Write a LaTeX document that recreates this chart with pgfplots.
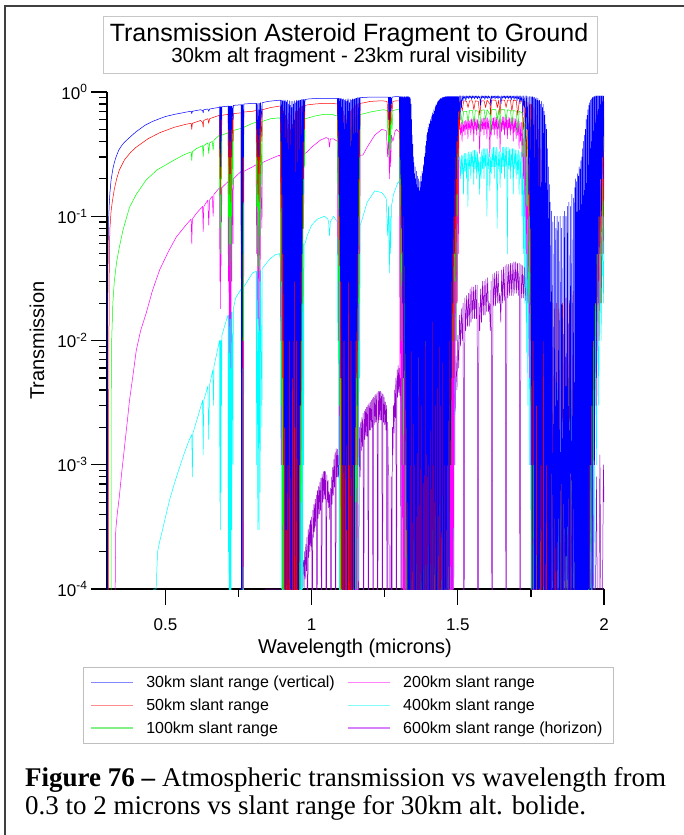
\documentclass[border=0pt]{standalone}
\usepackage{pgfplots}
\pgfplotsset{compat=1.18}
\usepackage{fontspec}
\setmainfont{Liberation Sans}
\newfontfamily\capfont{Liberation Serif}
\definecolor{cblue}{RGB}{0,0,255}
\definecolor{cred}{RGB}{255,0,0}
\definecolor{cgreen}{RGB}{0,255,0}
\definecolor{cmag}{RGB}{255,0,255}
\definecolor{ccyan}{RGB}{0,255,255}
\definecolor{cpurp}{RGB}{150,0,205}
\definecolor{lblue}{RGB}{135,135,255}
\definecolor{lred}{RGB}{255,140,140}
\definecolor{lgreen}{RGB}{130,240,130}
\definecolor{lmag}{RGB}{255,130,255}
\definecolor{lcyan}{RGB}{130,250,250}
\definecolor{lpurp}{RGB}{215,130,250}
\begin{document}
\begin{tikzpicture}
\useasboundingbox (0pt,0pt) rectangle (684pt,835pt);
% frame
\draw[line width=1.6pt, black!75] (5pt,0pt) -- (5pt,829pt) -- (684pt,829pt);
% title box
\draw[line width=0.9pt, black!22] (103pt,762pt) rectangle (597pt,819pt);
\node[anchor=base, inner sep=0pt] at (349pt,793pt) {\fontsize{25}{30}\selectfont Transmission Asteroid Fragment to Ground};
\node[anchor=base, inner sep=0pt] at (349pt,772pt) {\fontsize{20.5}{24}\selectfont 30km alt fragment - 23km rural visibility};
% caption
\node[anchor=base west, inner sep=0pt] at (25pt,48pt) {\capfont\fontsize{27}{30}\selectfont\textbf{Figure 76 –} Atmospheric transmission vs wavelength from};
\node[anchor=base west, inner sep=0pt] at (25pt,20pt) {\capfont\fontsize{27}{30}\selectfont 0.3 to 2 microns vs slant range for 30km alt. bolide.};
\begin{axis}[
  at={(107pt,246pt)}, anchor=south west,
  width=497pt, height=497pt, scale only axis,
  xmin=0.3, xmax=2, ymin=1e-4, ymax=1,
  ymode=log,
  axis x line*=bottom, axis y line*=left,
  axis line style={line width=1.2pt},
  tick align=outside,
  xtick={0.5,1,1.5,2}, xticklabels={0.5,1,1.5,2},
  minor xtick={0.75,1.25,1.75},
  ytick={1e-4,1e-3,1e-2,1e-1,1},
  yticklabels={10\textsuperscript{-4},10\textsuperscript{-3},10\textsuperscript{-2},10\textsuperscript{-1},10\textsuperscript{0}},
  minor ytick={2e-4,3e-4,4e-4,5e-4,6e-4,7e-4,8e-4,9e-4,2e-3,3e-3,4e-3,5e-3,6e-3,7e-3,8e-3,9e-3,2e-2,3e-2,4e-2,5e-2,6e-2,7e-2,8e-2,9e-2,0.2,0.3,0.4,0.5,0.6,0.7,0.8,0.9},
  major tick length=16pt, minor tick length=8pt,
  every tick/.style={black, line width=1.2pt},
  tick label style={font=\fontsize{17}{20}\selectfont},
  x tick label style={yshift=-10pt},
  xlabel={Wavelength (microns)}, ylabel={Transmission},
  label style={font=\fontsize{20}{24}\selectfont},
  xlabel style={at={(axis description cs:0.499,-0.119)}, anchor=center},
  ylabel style={at={(axis description cs:-0.141,0.5)}, anchor=center},
  legend columns=2,
  legend cell align=left,
  legend style={at={(axis description cs:-0.0483,-0.1569)}, anchor=north west,
    draw=black!25, line width=0.8pt, font=\fontsize{16}{19}\selectfont,
    inner xsep=7pt, inner ysep=3.5pt, column sep=9pt,
    every even column/.append style={column sep=11pt},
    nodes={inner xsep=3.5pt, inner ysep=4.9pt}},
  every axis plot/.append style={line width=0.5pt, line join=round},
]
\addlegendimage{legend image code/.code={\draw[lblue, line width=1.4pt] (0pt,0pt) -- (42pt,0pt);}}\addlegendentry{30km slant range (vertical)}
\addlegendimage{legend image code/.code={\draw[lmag, line width=1.4pt] (0pt,0pt) -- (42pt,0pt);}}\addlegendentry{200km slant range}
\addlegendimage{legend image code/.code={\draw[lred, line width=1.4pt] (0pt,0pt) -- (42pt,0pt);}}\addlegendentry{50km slant range}
\addlegendimage{legend image code/.code={\draw[lcyan, line width=1.4pt] (0pt,0pt) -- (42pt,0pt);}}\addlegendentry{400km slant range}
\addlegendimage{legend image code/.code={\draw[lgreen, line width=1.4pt] (0pt,0pt) -- (42pt,0pt);}}\addlegendentry{100km slant range}
\addlegendimage{legend image code/.code={\draw[lpurp, line width=1.4pt] (0pt,0pt) -- (42pt,0pt);}}\addlegendentry{600km slant range (horizon)}

% ---------------- 600 km (purple)
\addplot[cpurp, forget plot] coordinates {
(0.840,1e-4)(0.955,1e-4)(0.958,1.2e-4)(0.961,1e-4)(0.964,1.4e-4)(0.967,1.1e-4)(0.970,1.6e-4)
(0.972,1.7e-4)(0.974,1e-4)(0.976,2e-4)(0.978,1.2e-4)(0.980,2.3e-4)(0.982,1.4e-4)(0.984,2.6e-4)(0.986,1e-5)(0.988,3e-4)(0.990,1.8e-4)(0.992,3.3e-4)(0.994,2e-4)(0.996,3.6e-4)(0.998,2.2e-4)(1.000,3.8e-4)(1.002,1e-5)(1.004,4.3e-4)(1.006,2.6e-4)(1.008,4.8e-4)(1.010,2.9e-4)(1.012,5.3e-4)(1.014,3.2e-4)(1.016,5.7e-4)(1.018,1e-5)(1.020,6.2e-4)(1.022,3.7e-4)(1.024,6.7e-4)(1.026,4e-4)(1.028,7.2e-4)(1.030,4.3e-4)(1.032,7.8e-4)(1.034,1e-5)(1.036,8.4e-4)(1.038,5e-4)(1.040,8.8e-4)(1.042,5.3e-4)(1.044,8.9e-4)(1.046,5.3e-4)(1.048,8.8e-4)(1.050,1e-5)(1.052,8.3e-4)(1.054,5e-4)(1.056,7.5e-4)(1.058,4.5e-4)(1.060,6e-4)(1.062,3.6e-4)(1.064,6.5e-4)(1.066,1e-5)(1.068,8e-4)(1.070,4.8e-4)(1.072,9.5e-4)(1.074,5.7e-4)(1.076,1.1e-3)(1.078,6.6e-4)(1.080,1.25e-3)(1.082,1e-5)(1.084,1.35e-3)(1.086,8e-4)(1.088,1.33e-3)(1.090,8e-4)(1.092,1.2e-3)(1.094,7e-4)(1.096,1e-3)(1.098,1e-5)(1.100,7e-4)(1.102,4e-4)(1.104,4e-4)(1.106,1e-5)(1.108,2e-4)(1.110,1e-5)
(1.115,1e-4)(1.118,1e-5)(1.121,3e-4)(1.124,1e-5)(1.127,2e-4)(1.130,1e-5)(1.133,6e-4)(1.136,1e-5)(1.139,1.2e-3)(1.142,1e-5)(1.145,5e-4)(1.148,1e-5)(1.151,1e-3)(1.154,1e-5)(1.157,1.5e-3)(1.160,1e-5)(1.163,2e-3)(1.166,8e-4)
(1.168,2.2e-3)(1.170,1.3e-3)(1.172,2.4e-3)(1.174,1.4e-3)(1.176,2.6e-3)(1.178,1e-5)(1.180,2.7e-3)(1.182,1.6e-3)(1.184,2.8e-3)(1.186,1.7e-3)(1.188,2.9e-3)(1.190,1.7e-3)(1.192,3e-3)(1.194,1e-5)(1.196,3.1e-3)(1.198,1.9e-3)(1.200,3.2e-3)(1.202,1.9e-3)(1.204,3.3e-3)(1.206,2e-3)(1.208,3.4e-3)(1.210,1e-5)(1.212,3.5e-3)(1.214,2.1e-3)(1.216,3.6e-3)(1.218,2.2e-3)(1.220,3.7e-3)(1.222,2.2e-3)(1.224,3.8e-3)(1.226,1e-5)(1.228,3.9e-3)(1.230,2.3e-3)(1.232,3.9e-3)(1.234,2.3e-3)(1.236,3.9e-3)(1.238,2.3e-3)(1.240,3.8e-3)(1.242,1e-5)(1.244,3.7e-3)(1.246,2.2e-3)(1.248,3.5e-3)(1.250,2.1e-3)(1.252,3.2e-3)(1.254,1.9e-3)(1.256,3e-3)(1.258,1e-5)(1.260,2.2e-3)(1.262,1e-3)(1.264,8e-4)(1.266,1e-5)(1.268,1e-5)(1.270,1e-5)(1.272,8e-4)(1.274,1e-5)(1.276,2e-3)(1.278,1.2e-3)(1.280,3e-3)(1.282,1.8e-3)(1.284,4e-3)(1.286,2.4e-3)(1.288,5e-3)(1.290,1e-5)(1.292,5.8e-3)(1.294,3.5e-3)(1.296,6.3e-3)(1.298,3.8e-3)(1.300,6e-3)(1.302,3.6e-3)(1.304,5e-3)(1.306,1e-5)(1.308,4.2e-3)(1.310,2.5e-3)(1.312,3e-3)(1.314,1.8e-3)(1.316,1.5e-3)(1.318,1e-5)(1.320,5e-4)(1.322,1e-5)(1.324,1e-4)
(1.330,1e-5)(1.335,3e-4)(1.340,1e-5)(1.345,1e-4)(1.350,1e-5)(1.355,5e-4)(1.360,1e-5)(1.365,2e-4)(1.370,1e-5)(1.375,4e-4)(1.380,1e-5)(1.385,1e-4)(1.390,1e-5)(1.395,6e-4)(1.400,1e-5)(1.405,3e-4)(1.410,1e-5)(1.415,8e-4)(1.420,1e-5)(1.425,5e-4)(1.430,1e-5)(1.435,1e-3)(1.440,1e-5)(1.445,7e-4)(1.450,1e-5)(1.455,1.2e-3)(1.460,1e-5)(1.465,1.5e-3)
(1.470,1.5e-3)(1.473,1e-5)(1.476,2.2e-3)(1.479,1.2e-3)(1.482,3.2e-3)(1.485,1.8e-3)(1.488,5e-3)(1.491,2.7e-3)(1.494,7.5e-3)(1.497,4e-3)(1.500,0.011)(1.503,6e-3)(1.506,0.016)(1.509,9e-3)(1.512,0.018)(1.515,0.01)(1.518,0.02)(1.521,1e-5)(1.524,0.022)(1.527,0.012)(1.530,0.023)(1.533,0.013)(1.536,0.024)(1.539,0.013)(1.542,0.026)(1.545,0.014)(1.548,0.027)(1.551,0.015)(1.554,0.027)(1.557,0.015)(1.560,0.028)(1.563,0.015)(1.566,0.028)(1.569,1e-5)(1.572,0.02)(1.575,0.012)(1.578,0.026)(1.581,0.014)(1.584,0.03)(1.587,0.016)(1.590,0.03)(1.593,0.016)(1.596,0.031)(1.599,0.017)(1.602,0.032)(1.605,0.017)(1.608,0.02)(1.611,0.012)(1.614,0.03)(1.617,1e-5)(1.620,0.034)(1.623,0.019)(1.626,0.035)(1.629,0.019)(1.632,0.036)(1.635,0.02)(1.638,0.036)(1.641,0.02)(1.644,0.024)(1.647,0.014)(1.650,0.037)(1.653,0.02)(1.656,0.039)(1.659,0.021)(1.662,0.04)(1.665,1e-5)(1.668,0.041)(1.671,0.022)(1.674,0.041)(1.677,0.023)(1.680,0.042)(1.683,0.023)(1.686,0.042)(1.689,0.023)(1.692,0.043)(1.695,0.024)(1.698,0.043)(1.701,0.024)(1.704,0.042)(1.707,0.023)(1.710,0.042)(1.713,1e-5)(1.716,0.041)(1.719,0.022)(1.722,0.04)(1.725,0.022)(1.728,0.039)(1.731,0.021)(1.734,0.038)(1.737,0.021)(1.740,0.038)(1.743,0.021)(1.746,0.037)(1.749,0.02)(1.752,0.035)(1.755,0.019)(1.758,0.034)(1.761,1e-5)(1.764,0.031)(1.767,0.017)(1.770,0.028)(1.773,0.015)(1.776,0.026)(1.779,0.014)(1.782,0.024)(1.785,0.013)(1.788,0.022)(1.791,0.012)(1.794,0.02)(1.797,0.011)(1.800,0.017)(1.803,9e-3)(1.806,0.014)(1.809,1e-5)(1.812,9e-3)(1.815,5e-3)(1.818,5e-3)(1.821,2.7e-3)(1.824,2.5e-3)(1.827,1.4e-3)(1.830,1e-3)(1.833,1e-5)(1.836,4e-4)(1.839,1e-5)(1.842,1e-4)
(1.848,1e-5)(1.854,3e-4)(1.860,1e-5)(1.866,5e-4)(1.872,1e-5)(1.878,3e-4)(1.884,1e-5)(1.890,6e-4)(1.896,1e-5)(1.902,4e-4)(1.908,1e-5)(1.914,7e-4)(1.920,1e-5)(1.926,5e-4)(1.932,1e-5)(1.938,8e-4)(1.944,1e-5)(1.950,6e-4)(1.956,1e-5)(1.962,1e-3)(1.968,1e-5)(1.974,8e-4)(1.980,1e-5)(1.986,1.2e-3)(1.992,1e-5)(1.998,1e-3)(2.000,5e-4)
};

% ---------------- 400 km (cyan)
\addplot[ccyan, forget plot] coordinates {
(0.300,1e-5)(0.4595,1e-5)(0.460,1e-4)(0.468,1e-4)(0.473,2e-4)(0.480,2.4e-4)(0.490,3e-4)(0.500,3.8e-4)(0.514,5.2e-4)(0.530,7e-4)(0.548,9.5e-4)(0.565,1.25e-3)(0.582,1.6e-3)(0.590,1.75e-3)(0.592,8e-4)(0.594,1.8e-3)(0.610,2.4e-3)(0.627,3.3e-3)(0.629,1.2e-3)(0.631,3.3e-3)(0.645,4.3e-3)(0.648,1.6e-3)(0.651,4.4e-3)(0.662,5.8e-3)(0.664,3e-3)(0.666,6.2e-3)(0.685,0.01)(0.686,5e-4)(0.687,0.01)(0.688,3e-4)(0.689,0.01)(0.690,6e-4)(0.691,0.01)(0.692,3e-3)(0.693,0.011)(0.710,0.015)(0.714,0.016)(0.715,2e-4)(0.716,0.016)(0.718,1e-5)(0.719,0.016)(0.721,5e-5)(0.722,0.016)(0.724,1e-5)(0.725,0.017)(0.727,3e-4)(0.728,0.017)(0.731,1e-3)(0.732,0.018)(0.740,0.022)(0.759,0.026)(0.760,1e-5)(0.761,0.026)(0.762,1e-5)(0.763,0.026)(0.764,1e-5)(0.765,0.026)(0.767,1e-5)(0.768,0.027)(0.798,0.035)(0.810,0.036)(0.812,1e-3)(0.813,0.036)(0.816,3e-4)(0.817,0.036)(0.820,3e-4)(0.821,0.036)(0.824,6e-4)(0.825,0.037)(0.830,2e-3)(0.831,0.038)(0.856,0.045)(0.875,0.049)(0.890,0.05)
(0.893,0.045)(0.8945,1e-3)(0.896,0.04)(0.8975,1e-4)(0.899,0.03)(0.9005,1e-5)(0.902,0.02)(0.9035,1e-5)(0.905,0.012)(0.9065,1e-5)(0.908,0.015)(0.9095,1e-5)(0.911,8e-3)(0.9125,1e-5)(0.914,0.01)(0.9155,1e-5)(0.917,5e-3)(0.9185,1e-5)(0.920,8e-3)(0.9215,1e-5)(0.923,4e-3)(0.9245,1e-5)(0.926,6e-3)(0.9275,1e-5)(0.929,3e-3)(0.9305,1e-5)(0.932,5e-3)(0.9335,1e-5)(0.935,4e-3)(0.9365,1e-5)(0.938,7e-3)(0.9395,1e-5)(0.941,6e-3)(0.9425,1e-5)(0.944,0.01)(0.9455,1e-5)(0.947,0.01)(0.9485,1e-5)(0.950,0.015)(0.9515,1e-5)(0.953,0.02)(0.9545,1e-5)(0.956,0.03)(0.9575,1e-5)(0.959,0.035)(0.9605,1e-5)(0.962,0.045)(0.9635,1e-5)(0.965,0.05)(0.9665,1e-5)(0.968,0.055)(0.9695,1e-4)(0.971,0.06)(0.9725,1e-3)(0.974,0.06)
(0.977,0.06)(0.985,0.07)(1.000,0.085)(1.020,0.095)(1.044,0.1)(1.055,0.095)(1.058,0.09)(1.061,0.07)(1.064,0.09)(1.075,0.1)(1.088,0.09)
(1.0895,0.01)(1.091,0.07)(1.0925,1e-3)(1.094,0.04)(1.0955,1e-5)(1.097,0.02)(1.0985,1e-5)(1.100,0.01)(1.1015,1e-5)(1.103,6e-3)(1.1045,1e-5)(1.106,4e-3)(1.1075,1e-5)(1.109,3e-3)(1.1105,1e-5)(1.112,2e-3)(1.1135,1e-5)(1.115,2e-3)(1.1165,1e-5)(1.118,3e-3)(1.1195,1e-5)(1.121,2e-3)(1.1225,1e-5)(1.124,3e-3)(1.1255,1e-5)(1.127,4e-3)(1.1285,1e-5)(1.130,5e-3)(1.1315,1e-5)(1.133,6e-3)(1.1345,1e-5)(1.136,8e-3)(1.1375,1e-5)(1.139,0.01)(1.1405,1e-5)(1.142,0.015)(1.1435,1e-5)(1.145,0.02)(1.1465,1e-5)(1.148,0.03)(1.1495,1e-5)(1.151,0.04)(1.1525,1e-5)(1.154,0.05)(1.1555,1e-5)(1.157,0.06)(1.1585,1e-4)(1.160,0.07)(1.1615,1e-3)(1.163,0.08)(1.1645,5e-3)(1.166,0.085)
(1.170,0.09)(1.190,0.13)(1.216,0.16)(1.240,0.155)(1.255,0.14)(1.260,0.07)(1.263,0.12)(1.266,0.035)(1.268,0.1)(1.270,0.05)(1.273,0.12)(1.280,0.15)(1.296,0.19)(1.310,0.17)(1.318,0.15)
(1.320,0.12)(1.322,1e-3)(1.324,0.08)(1.326,1e-5)(1.328,0.05)(1.330,1e-5)(1.332,0.02)(1.334,1e-5)(1.336,8e-3)(1.338,1e-5)(1.340,4e-3)(1.342,1e-5)(1.344,2e-3)(1.346,1e-5)(1.348,1.5e-3)(1.350,1e-5)(1.352,1.2e-3)(1.354,1e-5)(1.356,1e-3)(1.358,1e-5)(1.360,1e-3)(1.362,1e-5)(1.364,1e-3)(1.366,1e-5)(1.368,1.2e-3)(1.370,1e-5)(1.372,1.5e-3)(1.374,1e-5)(1.376,2e-3)(1.378,1e-5)(1.380,2.5e-3)(1.382,1e-5)(1.384,3e-3)(1.386,1e-5)(1.388,4e-3)(1.390,1e-5)(1.392,5e-3)(1.394,1e-5)(1.396,7e-3)(1.398,1e-5)(1.400,9e-3)(1.402,1e-5)(1.404,0.012)(1.406,1e-5)(1.408,0.016)(1.410,1e-5)(1.412,0.02)(1.414,1e-5)(1.416,0.026)(1.418,1e-5)(1.420,0.034)(1.422,1e-5)(1.424,0.045)(1.426,1e-5)(1.428,0.06)(1.430,1e-5)(1.432,0.08)(1.434,1e-5)(1.436,0.1)(1.438,1e-5)(1.440,0.12)(1.442,1e-5)(1.444,0.14)(1.446,1e-5)(1.448,0.16)(1.450,1e-5)(1.452,0.18)(1.454,1e-5)(1.456,0.2)(1.458,1e-5)(1.460,0.22)(1.462,1e-5)(1.464,0.24)(1.466,1e-5)(1.468,0.25)(1.470,1e-5)(1.472,0.26)(1.474,1e-5)(1.476,0.27)(1.478,1e-5)(1.480,0.28)(1.482,1e-5)(1.484,0.28)(1.486,1e-4)(1.488,0.29)(1.490,1e-3)(1.492,0.3)(1.494,0.01)(1.496,0.3)(1.498,0.03)(1.500,0.3)(1.502,0.1)(1.504,0.3)
(1.507,0.3)(1.5095,0.2)(1.512,0.31)(1.5145,0.22)(1.517,0.31)(1.5195,0.15)(1.522,0.32)(1.5245,0.23)(1.527,0.32)(1.5295,0.2)(1.532,0.32)(1.5345,0.12)(1.537,0.33)(1.5395,0.24)(1.542,0.33)(1.5445,0.2)(1.547,0.33)(1.5495,0.25)(1.552,0.34)(1.5545,0.18)(1.557,0.34)(1.5595,0.24)(1.562,0.34)(1.5645,0.2)(1.567,0.33)(1.5695,0.22)(1.572,0.3)(1.5745,0.15)(1.577,0.3)(1.5795,0.2)(1.582,0.34)(1.5845,0.24)(1.587,0.35)(1.5895,0.2)(1.592,0.35)(1.5945,0.25)(1.597,0.35)(1.5995,0.1)(1.602,0.35)(1.6045,0.24)(1.607,0.33)(1.6095,0.16)(1.612,0.3)(1.6145,0.22)(1.617,0.35)(1.6195,0.25)(1.622,0.36)(1.6245,0.2)(1.627,0.36)(1.6295,0.25)(1.632,0.36)(1.6345,0.08)(1.637,0.35)(1.6395,0.24)(1.642,0.33)(1.6445,0.17)(1.647,0.33)(1.6495,0.22)(1.652,0.36)(1.6545,0.25)(1.657,0.36)(1.6595,0.2)(1.662,0.36)(1.6645,0.25)(1.667,0.36)(1.6695,0.05)(1.672,0.36)(1.6745,0.24)(1.677,0.35)(1.6795,0.2)(1.682,0.35)(1.6845,0.25)(1.687,0.35)(1.6895,0.15)(1.692,0.35)(1.6945,0.24)(1.697,0.34)(1.6995,0.2)(1.702,0.34)(1.7045,0.22)(1.707,0.34)(1.7095,0.15)(1.712,0.33)(1.7145,0.2)(1.717,0.33)(1.7195,0.1)(1.722,0.32)(1.7245,0.05)(1.727,0.32)(1.7295,0.02)(1.732,0.3)(1.7345,8e-3)(1.737,0.28)(1.7395,3e-3)(1.742,0.25)(1.7445,1e-3)(1.747,0.22)
(1.750,1e-4)(1.752,0.2)(1.754,1e-5)(1.756,0.15)(1.758,1e-5)(1.760,0.1)(1.762,1e-5)(1.764,0.06)(1.766,1e-5)(1.768,0.04)(1.770,1e-5)(1.772,0.025)(1.774,1e-5)(1.776,0.015)(1.778,1e-5)(1.780,0.01)(1.782,1e-5)(1.784,6e-3)(1.786,1e-5)(1.788,4e-3)(1.790,1e-5)(1.792,3e-3)(1.795,1e-5)(1.800,2e-3)(1.806,1e-5)(1.812,1.5e-3)(1.818,1e-5)(1.824,1e-3)(1.830,1e-5)(1.836,8e-4)(1.842,1e-5)(1.848,7e-4)(1.854,1e-5)(1.860,6e-4)(1.866,1e-5)(1.872,7e-4)(1.878,1e-5)(1.884,8e-4)(1.890,1e-5)(1.896,1e-3)(1.902,1e-5)(1.908,1.2e-3)(1.914,1e-5)(1.920,1.5e-3)(1.926,1e-5)(1.932,2e-3)(1.938,1e-5)(1.944,4e-3)(1.949,1e-5)(1.954,8e-3)(1.958,1e-5)(1.962,0.015)(1.966,1e-4)(1.970,0.025)(1.974,1e-3)(1.978,0.04)(1.982,3e-3)(1.986,0.06)(1.990,0.01)(1.994,0.08)(1.998,0.02)(2.000,0.08)
};

% ---------------- 200 km (magenta)
\addplot[cmag, forget plot] coordinates {
(0.300,1e-5)(0.3275,1e-5)(0.328,1e-4)(0.330,3e-4)(0.335,4e-4)(0.342,5.5e-4)(0.350,8.5e-4)(0.360,1.4e-3)(0.370,2.3e-3)(0.377,3.3e-3)(0.390,5.5e-3)(0.400,8.3e-3)(0.415,0.012)(0.434,0.0166)(0.455,0.025)(0.480,0.037)(0.510,0.052)(0.537,0.068)(0.570,0.085)(0.588,0.095)(0.590,0.06)(0.592,0.095)(0.605,0.105)(0.627,0.12)(0.629,0.075)(0.631,0.12)(0.645,0.135)(0.648,0.085)(0.651,0.135)(0.660,0.145)(0.663,0.1)(0.666,0.15)(0.685,0.17)(0.686,0.03)(0.687,0.17)(0.688,0.018)(0.689,0.17)(0.690,0.04)(0.691,0.17)(0.692,0.09)(0.693,0.17)(0.714,0.19)(0.715,0.03)(0.716,0.19)(0.718,8e-3)(0.719,0.19)(0.721,0.015)(0.722,0.19)(0.724,6e-3)(0.725,0.19)(0.727,0.03)(0.728,0.2)(0.731,0.06)(0.732,0.2)(0.759,0.23)(0.760,1e-5)(0.761,0.23)(0.762,1e-5)(0.763,0.23)(0.764,1e-5)(0.765,0.23)(0.767,1e-4)(0.768,0.23)(0.798,0.25)(0.810,0.26)(0.812,0.05)(0.813,0.26)(0.816,0.015)(0.817,0.26)(0.820,0.012)(0.821,0.26)(0.824,0.03)(0.825,0.26)(0.830,0.08)(0.831,0.27)(0.860,0.29)(0.890,0.31)
(0.893,0.3)(0.8945,0.01)(0.896,0.28)(0.8975,1e-3)(0.899,0.25)(0.9005,1e-4)(0.902,0.22)(0.9035,1e-5)(0.905,0.18)(0.9065,1e-5)(0.908,0.2)(0.9095,1e-5)(0.911,0.15)(0.9125,1e-5)(0.914,0.18)(0.9155,1e-5)(0.917,0.12)(0.9185,1e-5)(0.920,0.16)(0.9215,1e-5)(0.923,0.1)(0.9245,1e-5)(0.926,0.15)(0.9275,1e-5)(0.929,0.08)(0.9305,1e-5)(0.932,0.12)(0.9335,1e-5)(0.935,0.1)(0.9365,1e-5)(0.938,0.14)(0.9395,1e-5)(0.941,0.12)(0.9425,1e-5)(0.944,0.17)(0.9455,1e-5)(0.947,0.16)(0.9485,1e-5)(0.950,0.2)(0.9515,1e-5)(0.953,0.2)(0.9545,1e-5)(0.956,0.24)(0.9575,1e-5)(0.959,0.26)(0.9605,1e-4)(0.962,0.28)(0.9635,1e-3)(0.965,0.3)(0.9665,5e-3)(0.968,0.31)(0.9695,0.02)(0.971,0.32)(0.9725,0.08)(0.974,0.32)(0.977,0.32)
(0.985,0.33)(1.000,0.36)(1.030,0.41)(1.050,0.43)(1.058,0.42)(1.061,0.36)(1.064,0.42)(1.075,0.42)(1.088,0.4)
(1.0895,0.05)(1.091,0.35)(1.0925,0.01)(1.094,0.3)(1.0955,1e-3)(1.097,0.25)(1.0985,1e-4)(1.100,0.2)(1.1015,1e-5)(1.103,0.15)(1.1045,1e-5)(1.106,0.1)(1.1075,1e-5)(1.109,0.08)(1.1105,1e-5)(1.112,0.06)(1.1135,1e-5)(1.115,0.05)(1.1165,1e-5)(1.118,0.07)(1.1195,1e-5)(1.121,0.05)(1.1225,1e-5)(1.124,0.06)(1.1255,1e-5)(1.127,0.08)(1.1285,1e-5)(1.130,0.1)(1.1315,1e-5)(1.133,0.12)(1.1345,1e-5)(1.136,0.15)(1.1375,1e-5)(1.139,0.18)(1.1405,1e-5)(1.142,0.2)(1.1435,1e-5)(1.145,0.22)(1.1465,1e-5)(1.148,0.25)(1.1495,1e-5)(1.151,0.27)(1.1525,1e-5)(1.154,0.28)(1.1555,1e-5)(1.157,0.3)(1.1585,1e-3)(1.160,0.3)(1.1615,0.01)(1.163,0.3)(1.1645,0.05)(1.166,0.31)
(1.175,0.31)(1.190,0.36)(1.216,0.45)(1.240,0.5)(1.255,0.49)(1.260,0.3)(1.263,0.45)(1.266,0.2)(1.268,0.42)(1.270,0.25)(1.273,0.45)(1.278,0.4)(1.285,0.48)(1.290,0.5)(1.298,0.48)
(1.300,0.48)(1.302,5e-3)(1.304,0.45)(1.306,1e-3)(1.308,0.44)(1.310,1e-4)(1.312,0.4)(1.314,1e-5)(1.316,0.38)(1.318,1e-5)(1.320,0.32)(1.322,1e-5)(1.324,0.28)(1.326,1e-5)(1.328,0.2)(1.330,1e-5)(1.332,0.12)(1.334,1e-5)(1.336,0.05)(1.338,1e-5)(1.340,0.02)(1.342,1e-5)(1.344,0.01)(1.346,1e-5)(1.348,5e-3)(1.350,1e-5)(1.352,3e-3)(1.354,1e-5)(1.356,2e-3)(1.358,1e-5)(1.360,1.5e-3)(1.362,1e-5)(1.364,1.2e-3)(1.366,1e-5)(1.368,1.5e-3)(1.370,1e-5)(1.372,1.2e-3)(1.374,1e-5)(1.376,2e-3)(1.378,1e-5)(1.380,3e-3)(1.382,1e-5)(1.384,4e-3)(1.386,1e-5)(1.388,6e-3)(1.390,1e-5)(1.392,0.01)(1.394,1e-5)(1.396,0.015)(1.398,1e-5)(1.400,0.02)(1.402,1e-5)(1.404,0.03)(1.406,1e-5)(1.408,0.04)(1.410,1e-5)(1.412,0.06)(1.414,1e-5)(1.416,0.08)(1.418,1e-5)(1.420,0.1)(1.422,1e-5)(1.424,0.13)(1.426,1e-5)(1.428,0.16)(1.430,1e-5)(1.432,0.2)(1.434,1e-5)(1.436,0.23)(1.438,1e-5)(1.440,0.27)(1.442,1e-5)(1.444,0.3)(1.446,1e-5)(1.448,0.33)(1.450,1e-5)(1.452,0.36)(1.454,1e-5)(1.456,0.4)(1.458,1e-5)(1.460,0.42)(1.462,1e-5)(1.464,0.45)(1.466,1e-5)(1.468,0.47)(1.470,1e-5)(1.472,0.5)(1.474,1e-5)(1.476,0.52)(1.478,1e-5)(1.480,0.53)(1.482,1e-5)(1.484,0.55)(1.486,1e-4)(1.488,0.56)(1.490,1e-3)(1.492,0.57)(1.494,0.01)(1.496,0.57)(1.498,0.02)(1.500,0.58)(1.502,0.05)(1.504,0.58)
(1.507,0.56)(1.5095,0.45)(1.512,0.57)(1.5145,0.4)(1.517,0.58)(1.5195,0.48)(1.522,0.58)(1.5245,0.45)(1.527,0.59)(1.5295,0.5)(1.532,0.6)(1.5345,0.42)(1.537,0.6)(1.5395,0.5)(1.542,0.6)(1.5445,0.45)(1.547,0.61)(1.5495,0.5)(1.552,0.61)(1.5545,0.4)(1.557,0.61)(1.5595,0.5)(1.562,0.61)(1.5645,0.45)(1.567,0.6)(1.5695,0.5)(1.572,0.58)(1.5745,0.32)(1.577,0.58)(1.5795,0.48)(1.582,0.61)(1.5845,0.5)(1.587,0.62)(1.5895,0.45)(1.592,0.62)(1.5945,0.5)(1.597,0.62)(1.5995,0.42)(1.602,0.62)(1.6045,0.5)(1.607,0.6)(1.6095,0.3)(1.612,0.58)(1.6145,0.45)(1.617,0.62)(1.6195,0.5)(1.622,0.62)(1.6245,0.45)(1.627,0.63)(1.6295,0.5)(1.632,0.63)(1.6345,0.42)(1.637,0.62)(1.6395,0.5)(1.642,0.6)(1.6445,0.33)(1.647,0.6)(1.6495,0.48)(1.652,0.63)(1.6545,0.5)(1.657,0.63)(1.6595,0.45)(1.662,0.63)(1.6645,0.5)(1.667,0.63)(1.6695,0.42)(1.672,0.63)(1.6745,0.5)(1.677,0.62)(1.6795,0.45)(1.682,0.62)(1.6845,0.5)(1.687,0.62)(1.6895,0.4)(1.692,0.62)(1.6945,0.48)(1.697,0.61)(1.6995,0.42)(1.702,0.6)(1.7045,0.45)(1.707,0.6)(1.7095,0.35)(1.712,0.58)(1.7145,0.4)(1.717,0.57)(1.7195,0.3)(1.722,0.56)(1.7245,0.2)(1.727,0.55)(1.7295,0.1)(1.732,0.54)(1.7345,0.05)(1.737,0.53)(1.7395,0.02)(1.742,0.52)(1.7445,5e-3)(1.747,0.5)
(1.750,1e-3)(1.752,0.45)(1.754,1e-5)(1.756,0.35)(1.758,1e-5)(1.760,0.3)(1.762,1e-5)(1.764,0.2)(1.766,1e-5)(1.768,0.15)(1.770,1e-5)(1.772,0.1)(1.774,1e-5)(1.776,0.06)(1.778,1e-5)(1.780,0.04)(1.782,1e-5)(1.784,0.025)(1.786,1e-5)(1.788,0.015)(1.790,1e-5)(1.792,0.01)(1.794,1e-5)(1.796,6e-3)(1.798,1e-5)(1.800,4e-3)(1.805,1e-5)(1.810,3e-3)(1.817,1e-5)(1.824,2e-3)(1.831,1e-5)(1.838,1.5e-3)(1.845,1e-5)(1.852,1.2e-3)(1.859,1e-5)(1.866,1.5e-3)(1.873,1e-5)(1.880,1.2e-3)(1.887,1e-5)(1.894,1.5e-3)(1.901,1e-5)(1.908,2e-3)(1.915,1e-5)(1.922,3e-3)(1.928,1e-5)(1.934,5e-3)(1.940,1e-5)(1.945,0.01)(1.950,1e-5)(1.955,0.03)(1.959,1e-4)(1.963,0.06)(1.967,1e-3)(1.971,0.1)(1.975,3e-3)(1.979,0.15)(1.983,0.01)(1.987,0.2)(1.991,0.02)(1.995,0.3)(1.998,0.05)(2.000,0.3)
};

% ---------------- 100 km (green)
\addplot[cgreen, forget plot] coordinates {
(0.300,1e-5)(0.3135,1e-5)(0.314,0.003)(0.316,0.01)(0.320,0.02)(0.325,0.03)(0.333,0.043)(0.342,0.056)(0.355,0.078)(0.377,0.118)(0.400,0.15)(0.434,0.196)(0.470,0.235)(0.514,0.27)(0.560,0.31)(0.588,0.33)(0.590,0.28)(0.592,0.33)(0.605,0.35)(0.627,0.37)(0.629,0.3)(0.631,0.37)(0.645,0.39)(0.648,0.32)(0.651,0.39)(0.660,0.4)(0.663,0.34)(0.666,0.41)(0.685,0.45)(0.686,0.08)(0.687,0.45)(0.688,0.05)(0.689,0.45)(0.690,0.1)(0.691,0.45)(0.692,0.2)(0.693,0.45)(0.714,0.47)(0.715,0.1)(0.716,0.47)(0.718,0.04)(0.719,0.47)(0.721,0.06)(0.722,0.47)(0.724,0.03)(0.725,0.47)(0.727,0.1)(0.728,0.48)(0.731,0.18)(0.732,0.49)(0.759,0.51)(0.760,1e-5)(0.761,0.51)(0.762,1e-5)(0.763,0.51)(0.764,1e-5)(0.765,0.51)(0.767,0.01)(0.768,0.52)(0.798,0.56)(0.810,0.57)(0.812,0.12)(0.813,0.57)(0.816,0.04)(0.817,0.57)(0.820,0.035)(0.821,0.57)(0.824,0.07)(0.825,0.58)(0.830,0.18)(0.831,0.58)(0.860,0.61)(0.890,0.62)
(0.893,0.6)(0.8945,0.03)(0.896,0.58)(0.8975,3e-3)(0.899,0.55)(0.9005,1e-4)(0.902,0.52)(0.9035,1e-5)(0.905,0.45)(0.9065,1e-5)(0.908,0.48)(0.9095,1e-5)(0.911,0.4)(0.9125,1e-5)(0.914,0.45)(0.9155,1e-5)(0.917,0.35)(0.9185,1e-5)(0.920,0.42)(0.9215,1e-5)(0.923,0.3)(0.9245,1e-5)(0.926,0.4)(0.9275,1e-5)(0.929,0.28)(0.9305,1e-5)(0.932,0.38)(0.9335,1e-5)(0.935,0.32)(0.9365,1e-5)(0.938,0.42)(0.9395,1e-5)(0.941,0.38)(0.9425,1e-5)(0.944,0.48)(0.9455,1e-5)(0.947,0.46)(0.9485,1e-5)(0.950,0.52)(0.9515,1e-5)(0.953,0.5)(0.9545,1e-5)(0.956,0.55)(0.9575,1e-5)(0.959,0.57)(0.9605,1e-4)(0.962,0.58)(0.9635,5e-4)(0.965,0.6)(0.9665,3e-3)(0.968,0.6)(0.9695,0.02)(0.971,0.61)(0.9725,0.08)(0.974,0.61)(0.9755,0.25)(0.977,0.61)
(0.990,0.62)(1.010,0.64)(1.040,0.66)(1.070,0.66)(1.088,0.64)
(1.0895,0.15)(1.091,0.63)(1.0925,0.03)(1.094,0.62)(1.0955,3e-3)(1.097,0.6)(1.0985,1e-4)(1.100,0.58)(1.1015,1e-5)(1.103,0.55)(1.1045,1e-5)(1.106,0.5)(1.1075,1e-5)(1.109,0.48)(1.1105,1e-5)(1.112,0.42)(1.1135,1e-5)(1.115,0.45)(1.1165,1e-5)(1.118,0.38)(1.1195,1e-5)(1.121,0.44)(1.1225,1e-5)(1.124,0.4)(1.1255,1e-5)(1.127,0.48)(1.1285,1e-5)(1.130,0.4)(1.1315,1e-5)(1.133,0.5)(1.1345,1e-5)(1.136,0.52)(1.1375,1e-5)(1.139,0.56)(1.1405,1e-5)(1.142,0.55)(1.1435,1e-5)(1.145,0.6)(1.1465,1e-5)(1.148,0.62)(1.1495,1e-4)(1.151,0.63)(1.1525,5e-4)(1.154,0.64)(1.1555,1e-4)(1.157,0.65)(1.1585,3e-3)(1.160,0.66)(1.1615,0.02)(1.163,0.66)(1.1645,0.1)(1.166,0.66)
(1.180,0.67)(1.200,0.69)(1.230,0.71)(1.245,0.72)(1.258,0.71)(1.262,0.4)(1.264,0.71)(1.266,0.3)(1.268,0.71)(1.270,0.35)(1.272,0.71)(1.275,0.5)(1.278,0.71)(1.290,0.72)(1.298,0.72)
(1.300,0.72)(1.302,0.1)(1.304,0.7)(1.306,0.01)(1.308,0.72)(1.310,0.03)(1.312,0.68)(1.314,1e-3)(1.316,0.7)(1.318,5e-3)(1.320,0.65)(1.322,1e-4)(1.324,0.66)(1.326,1e-5)(1.328,0.6)(1.330,1e-5)(1.332,0.55)(1.334,1e-5)(1.336,0.4)(1.338,1e-5)(1.340,0.2)(1.342,1e-5)(1.344,0.1)(1.346,1e-5)(1.348,0.05)(1.350,1e-5)(1.352,0.03)(1.354,1e-5)(1.356,0.02)(1.358,1e-5)(1.360,0.015)(1.362,1e-5)(1.364,0.012)(1.366,1e-5)(1.368,0.015)(1.370,1e-5)(1.372,0.012)(1.374,1e-5)(1.376,0.018)(1.378,1e-5)(1.380,0.02)(1.382,1e-5)(1.384,0.03)(1.386,1e-5)(1.388,0.04)(1.390,1e-5)(1.392,0.06)(1.394,1e-5)(1.396,0.08)(1.398,1e-5)(1.400,0.11)(1.402,1e-5)(1.404,0.14)(1.406,1e-5)(1.408,0.18)(1.410,1e-5)(1.412,0.22)(1.414,1e-5)(1.416,0.27)(1.418,1e-5)(1.420,0.32)(1.422,1e-5)(1.424,0.37)(1.426,1e-5)(1.428,0.42)(1.430,1e-5)(1.432,0.46)(1.434,1e-5)(1.436,0.5)(1.438,1e-5)(1.440,0.53)(1.442,1e-5)(1.444,0.56)(1.446,1e-5)(1.448,0.6)(1.450,1e-5)(1.452,0.62)(1.454,1e-5)(1.456,0.64)(1.458,1e-4)(1.460,0.66)(1.462,1e-5)(1.464,0.67)(1.466,1e-3)(1.468,0.68)(1.470,1e-5)(1.472,0.69)(1.474,3e-3)(1.476,0.7)(1.478,1e-3)(1.480,0.7)(1.482,0.01)(1.484,0.71)(1.486,0.005)(1.488,0.71)(1.490,0.03)(1.492,0.71)(1.494,0.01)(1.496,0.72)(1.498,0.1)(1.500,0.72)(1.502,0.3)(1.504,0.72)
(1.510,0.69)(1.515,0.55)(1.520,0.7)(1.530,0.7)(1.535,0.58)(1.540,0.71)(1.550,0.71)(1.555,0.56)(1.560,0.71)(1.570,0.7)(1.575,0.48)(1.580,0.71)(1.590,0.72)(1.595,0.6)(1.600,0.72)(1.610,0.66)(1.612,0.48)(1.615,0.72)(1.630,0.72)(1.635,0.6)(1.640,0.72)(1.644,0.5)(1.648,0.72)(1.660,0.72)(1.665,0.6)(1.670,0.72)(1.680,0.71)(1.685,0.55)(1.690,0.71)(1.700,0.7)(1.705,0.48)(1.710,0.7)(1.720,0.68)(1.725,0.3)(1.730,0.67)(1.735,0.12)(1.740,0.64)(1.745,0.02)(1.748,0.6)
(1.750,3e-3)(1.752,0.6)(1.754,1e-5)(1.756,0.55)(1.758,1e-4)(1.760,0.5)(1.762,1e-5)(1.764,0.4)(1.766,1e-5)(1.768,0.3)(1.770,1e-5)(1.772,0.2)(1.774,1e-5)(1.776,0.12)(1.778,1e-5)(1.780,0.08)(1.782,1e-5)(1.784,0.05)(1.786,1e-5)(1.788,0.03)(1.790,1e-5)(1.792,0.02)(1.794,1e-5)(1.796,0.01)(1.798,1e-5)(1.800,6e-3)(1.803,1e-5)(1.806,5e-3)(1.812,1e-5)(1.818,4e-3)(1.824,1e-5)(1.830,3e-3)(1.836,1e-5)(1.842,4e-3)(1.848,1e-5)(1.854,3e-3)(1.860,1e-5)(1.866,4e-3)(1.872,1e-5)(1.878,5e-3)(1.884,1e-5)(1.890,4e-3)(1.896,1e-5)(1.902,5e-3)(1.908,1e-5)(1.914,7e-3)(1.920,1e-5)(1.926,0.01)(1.932,1e-5)(1.936,0.02)(1.940,1e-5)(1.944,0.04)(1.948,1e-5)(1.952,0.1)(1.956,1e-4)(1.960,0.2)(1.964,1e-3)(1.968,0.35)(1.972,3e-3)(1.976,0.45)(1.980,0.01)(1.984,0.55)(1.988,0.02)(1.992,0.6)(1.996,0.05)(2.000,0.62)
};

% ---------------- 50 km (red)
\addplot[cred, forget plot] coordinates {
(0.300,1e-5)(0.3055,1e-5)(0.306,0.005)(0.308,0.05)(0.310,0.08)(0.314,0.11)(0.318,0.13)(0.325,0.165)(0.333,0.2)(0.342,0.235)(0.360,0.285)(0.380,0.325)(0.400,0.36)(0.440,0.42)(0.480,0.47)(0.530,0.52)(0.570,0.55)(0.588,0.56)(0.590,0.5)(0.592,0.56)(0.620,0.59)(0.627,0.57)(0.629,0.52)(0.631,0.59)(0.645,0.61)(0.648,0.56)(0.651,0.61)(0.685,0.65)(0.686,0.2)(0.687,0.65)(0.688,0.15)(0.689,0.65)(0.690,0.25)(0.691,0.65)(0.692,0.45)(0.693,0.65)(0.714,0.66)(0.715,0.3)(0.716,0.66)(0.718,0.15)(0.719,0.66)(0.721,0.22)(0.722,0.66)(0.724,0.13)(0.725,0.66)(0.727,0.3)(0.728,0.66)(0.731,0.4)(0.732,0.67)(0.759,0.68)(0.760,1e-5)(0.761,0.68)(0.762,1e-5)(0.763,0.68)(0.764,0.006)(0.765,0.68)(0.767,0.13)(0.768,0.69)(0.798,0.7)(0.810,0.71)(0.812,0.3)(0.813,0.71)(0.816,0.15)(0.817,0.71)(0.820,0.13)(0.821,0.71)(0.824,0.22)(0.825,0.72)(0.830,0.4)(0.831,0.72)(0.860,0.75)(0.890,0.77)
(0.893,0.77)(0.8945,0.15)(0.896,0.76)(0.8975,0.03)(0.899,0.75)(0.9005,5e-3)(0.902,0.74)(0.9035,1e-3)(0.905,0.7)(0.9065,1e-5)(0.908,0.72)(0.9095,1e-4)(0.911,0.65)(0.9125,1e-5)(0.914,0.7)(0.9155,1e-5)(0.917,0.6)(0.9185,1e-5)(0.920,0.68)(0.9215,1e-5)(0.923,0.55)(0.9245,1e-5)(0.926,0.65)(0.9275,1e-5)(0.929,0.5)(0.9305,1e-5)(0.932,0.6)(0.9335,1e-5)(0.935,0.55)(0.9365,1e-5)(0.938,0.65)(0.9395,1e-5)(0.941,0.6)(0.9425,1e-5)(0.944,0.7)(0.9455,1e-5)(0.947,0.68)(0.9485,1e-5)(0.950,0.72)(0.9515,1e-5)(0.953,0.7)(0.9545,1e-5)(0.956,0.74)(0.9575,1e-4)(0.959,0.75)(0.9605,1e-3)(0.962,0.76)(0.9635,3e-3)(0.965,0.77)(0.9665,0.02)(0.968,0.77)(0.9695,0.08)(0.971,0.78)(0.9725,0.2)(0.974,0.78)(0.9755,0.5)(0.977,0.78)
(0.990,0.79)(1.010,0.8)(1.040,0.81)(1.070,0.81)(1.088,0.8)
(1.0895,0.4)(1.091,0.8)(1.0925,0.15)(1.094,0.79)(1.0955,0.04)(1.097,0.78)(1.0985,5e-3)(1.100,0.77)(1.1015,1e-4)(1.103,0.75)(1.1045,1e-5)(1.106,0.72)(1.1075,1e-5)(1.109,0.7)(1.1105,1e-5)(1.112,0.65)(1.1135,1e-5)(1.115,0.68)(1.1165,1e-5)(1.118,0.6)(1.1195,1e-5)(1.121,0.66)(1.1225,1e-5)(1.124,0.62)(1.1255,1e-5)(1.127,0.7)(1.1285,1e-5)(1.130,0.6)(1.1315,1e-5)(1.133,0.7)(1.1345,1e-5)(1.136,0.72)(1.1375,1e-5)(1.139,0.75)(1.1405,1e-5)(1.142,0.74)(1.1435,1e-4)(1.145,0.77)(1.1465,1e-5)(1.148,0.78)(1.1495,1e-3)(1.151,0.79)(1.1525,5e-3)(1.154,0.8)(1.1555,1e-3)(1.157,0.8)(1.1585,0.02)(1.160,0.81)(1.1615,0.1)(1.163,0.81)(1.1645,0.3)(1.166,0.81)
(1.180,0.82)(1.200,0.84)(1.240,0.85)(1.258,0.84)(1.262,0.6)(1.264,0.84)(1.266,0.45)(1.268,0.84)(1.270,0.55)(1.272,0.84)(1.275,0.7)(1.278,0.84)(1.290,0.85)(1.298,0.85)
(1.300,0.85)(1.302,0.3)(1.304,0.84)(1.306,0.05)(1.308,0.85)(1.310,0.1)(1.312,0.82)(1.314,5e-3)(1.316,0.84)(1.318,0.02)(1.320,0.8)(1.322,1e-3)(1.324,0.82)(1.326,1e-4)(1.328,0.78)(1.330,1e-5)(1.332,0.75)(1.334,1e-5)(1.336,0.6)(1.338,1e-5)(1.340,0.4)(1.342,1e-5)(1.344,0.25)(1.346,1e-5)(1.348,0.15)(1.350,1e-5)(1.352,0.1)(1.354,1e-5)(1.356,0.08)(1.358,1e-5)(1.360,0.06)(1.362,1e-5)(1.364,0.05)(1.366,1e-5)(1.368,0.06)(1.370,1e-5)(1.372,0.05)(1.374,1e-5)(1.376,0.07)(1.378,1e-5)(1.380,0.08)(1.382,1e-5)(1.384,0.1)(1.386,1e-5)(1.388,0.13)(1.390,1e-5)(1.392,0.18)(1.394,1e-5)(1.396,0.22)(1.398,1e-5)(1.400,0.28)(1.402,1e-5)(1.404,0.32)(1.406,1e-5)(1.408,0.38)(1.410,1e-5)(1.412,0.45)(1.414,1e-5)(1.416,0.5)(1.418,1e-5)(1.420,0.55)(1.422,1e-5)(1.424,0.6)(1.426,1e-5)(1.428,0.65)(1.430,1e-5)(1.432,0.7)(1.434,1e-5)(1.436,0.72)(1.438,1e-5)(1.440,0.75)(1.442,1e-5)(1.444,0.78)(1.446,1e-5)(1.448,0.8)(1.450,1e-5)(1.452,0.8)(1.454,1e-5)(1.456,0.82)(1.458,1e-4)(1.460,0.82)(1.462,1e-5)(1.464,0.83)(1.466,1e-3)(1.468,0.83)(1.470,1e-5)(1.472,0.84)(1.474,3e-3)(1.476,0.84)(1.478,1e-3)(1.480,0.84)(1.482,0.01)(1.484,0.84)(1.486,0.005)(1.488,0.84)(1.490,0.05)(1.492,0.84)(1.494,0.02)(1.496,0.84)(1.498,0.15)(1.500,0.84)(1.502,0.3)(1.504,0.84)(1.506,0.5)(1.508,0.85)
(1.510,0.84)(1.515,0.7)(1.520,0.85)(1.530,0.84)(1.535,0.75)(1.540,0.85)(1.550,0.85)(1.555,0.72)(1.560,0.85)(1.570,0.84)(1.575,0.65)(1.580,0.85)(1.590,0.85)(1.595,0.75)(1.600,0.86)(1.610,0.8)(1.612,0.65)(1.615,0.86)(1.630,0.86)(1.635,0.75)(1.640,0.86)(1.644,0.66)(1.648,0.86)(1.660,0.86)(1.665,0.75)(1.670,0.86)(1.680,0.86)(1.685,0.7)(1.690,0.86)(1.700,0.85)(1.705,0.65)(1.710,0.85)(1.720,0.84)(1.725,0.5)(1.730,0.84)(1.735,0.3)(1.740,0.83)(1.745,0.1)(1.748,0.8)
(1.750,0.01)(1.752,0.8)(1.754,1e-5)(1.756,0.78)(1.758,1e-3)(1.760,0.75)(1.762,1e-5)(1.764,0.72)(1.766,1e-5)(1.768,0.65)(1.770,1e-5)(1.772,0.6)(1.774,1e-5)(1.776,0.5)(1.778,1e-5)(1.780,0.45)(1.782,1e-5)(1.784,0.35)(1.786,1e-5)(1.788,0.28)(1.790,1e-5)(1.792,0.2)(1.794,1e-5)(1.796,0.15)(1.798,1e-5)(1.800,0.1)(1.802,1e-5)(1.804,0.07)(1.806,1e-5)(1.808,0.05)(1.810,1e-5)(1.813,0.03)(1.816,1e-5)(1.819,0.025)(1.822,1e-5)(1.825,0.02)(1.828,1e-5)(1.831,0.018)(1.834,1e-5)(1.837,0.02)(1.840,1e-5)(1.846,0.018)(1.852,1e-5)(1.858,0.02)(1.864,1e-5)(1.870,0.022)(1.876,1e-5)(1.882,0.02)(1.888,1e-5)(1.894,0.025)(1.900,1e-5)(1.906,0.03)(1.912,1e-5)(1.918,0.04)(1.924,1e-5)(1.930,0.06)(1.934,1e-5)(1.938,0.1)(1.942,1e-5)(1.946,0.2)(1.950,1e-4)(1.954,0.3)(1.958,1e-3)(1.962,0.45)(1.966,3e-3)(1.970,0.6)(1.974,0.01)(1.978,0.7)(1.982,0.03)(1.986,0.8)(1.990,0.05)(1.994,0.84)(1.998,0.1)(2.000,0.84)
};

% ---------------- 30 km (blue)
\addplot[cblue, forget plot] coordinates {
(0.300,1e-5)(0.3015,1e-5)(0.302,0.017)(0.304,0.06)(0.306,0.1)(0.308,0.13)(0.310,0.155)(0.314,0.196)(0.320,0.24)(0.325,0.27)(0.331,0.30)(0.340,0.34)(0.350,0.37)(0.360,0.395)(0.377,0.43)(0.400,0.48)(0.430,0.54)(0.456,0.58)(0.480,0.61)(0.500,0.635)(0.530,0.66)(0.572,0.69)(0.588,0.70)(0.590,0.67)(0.592,0.70)(0.620,0.72)(0.627,0.71)(0.629,0.68)(0.631,0.72)(0.645,0.73)(0.648,0.70)(0.651,0.73)(0.680,0.75)(0.685,0.76)(0.686,0.35)(0.687,0.76)(0.688,0.25)(0.689,0.76)(0.690,0.4)(0.691,0.76)(0.692,0.6)(0.693,0.76)(0.714,0.77)(0.715,0.5)(0.716,0.77)(0.718,0.3)(0.719,0.77)(0.721,0.4)(0.722,0.77)(0.724,0.3)(0.725,0.77)(0.727,0.5)(0.728,0.77)(0.731,0.6)(0.732,0.78)(0.759,0.79)(0.760,1e-5)(0.761,0.79)(0.762,1e-5)(0.763,0.79)(0.764,0.05)(0.765,0.79)(0.767,0.3)(0.768,0.80)(0.798,0.81)(0.810,0.81)(0.812,0.5)(0.813,0.81)(0.816,0.3)(0.817,0.81)(0.820,0.3)(0.821,0.81)(0.824,0.45)(0.825,0.82)(0.830,0.6)(0.831,0.82)(0.850,0.84)(0.870,0.85)(0.8935,0.86)
(0.895,0.4)(0.8965,0.86)(0.898,0.15)(0.8995,0.85)(0.901,0.05)(0.9025,0.86)(0.904,0.01)(0.9055,0.84)(0.907,2e-3)(0.9085,0.86)(0.910,1e-5)(0.9115,0.85)(0.913,3e-4)(0.9145,0.83)(0.916,1e-5)(0.9175,0.86)(0.919,1e-3)(0.9205,0.8)(0.922,1e-5)(0.9235,0.85)(0.925,1e-2)(0.9265,0.78)(0.928,1e-4)(0.9295,0.84)(0.931,1e-5)(0.9325,0.75)(0.934,5e-3)(0.9355,0.84)(0.937,1e-5)(0.9385,0.8)(0.940,3e-2)(0.9415,0.85)(0.943,2e-3)(0.9445,0.82)(0.946,1e-5)(0.9475,0.86)(0.949,1e-2)(0.9505,0.84)(0.952,1e-4)(0.9535,0.86)(0.955,1e-5)(0.9565,0.85)(0.958,1e-3)(0.9595,0.86)(0.961,3e-3)(0.9625,0.86)(0.964,0.01)(0.9655,0.87)(0.967,0.05)(0.9685,0.87)(0.970,0.15)(0.9715,0.87)(0.973,0.4)(0.9745,0.87)(0.976,0.7)(0.9775,0.87)
(0.990,0.88)(1.010,0.885)(1.030,0.89)(1.060,0.89)(1.088,0.89)
(1.0895,0.6)(1.091,0.89)(1.0925,0.3)(1.094,0.89)(1.0955,0.1)(1.097,0.88)(1.0985,0.03)(1.100,0.89)(1.1015,5e-3)(1.103,0.88)(1.1045,1e-3)(1.106,0.87)(1.1075,1e-5)(1.109,0.88)(1.1105,1e-2)(1.112,0.86)(1.1135,1e-5)(1.115,0.87)(1.1165,1e-3)(1.118,0.84)(1.1195,3e-4)(1.121,0.88)(1.1225,1e-5)(1.124,0.85)(1.1255,3e-2)(1.127,0.88)(1.1285,1e-3)(1.130,0.82)(1.1315,1e-5)(1.133,0.87)(1.1345,1e-2)(1.136,0.86)(1.1375,1e-4)(1.139,0.88)(1.1405,1e-5)(1.142,0.87)(1.1435,1e-3)(1.145,0.88)(1.1465,1e-5)(1.148,0.88)(1.1495,2e-3)(1.151,0.89)(1.1525,0.01)(1.154,0.89)(1.1555,3e-3)(1.157,0.9)(1.1585,0.05)(1.160,0.9)(1.1615,0.2)(1.163,0.9)(1.1645,0.5)(1.166,0.9)
(1.180,0.905)(1.200,0.91)(1.240,0.91)(1.262,0.91)(1.264,0.7)(1.265,0.91)(1.267,0.6)(1.268,0.91)(1.270,0.7)(1.271,0.91)(1.274,0.8)(1.275,0.91)(1.290,0.92)
(1.300,0.92)(1.301,0.5)(1.302,0.91)(1.303,0.2)(1.304,0.92)(1.305,0.6)(1.306,0.9)(1.307,0.08)(1.308,0.92)(1.309,0.3)(1.310,0.91)(1.311,0.02)(1.312,0.92)(1.313,0.1)(1.314,0.9)(1.315,5e-3)(1.316,0.92)(1.317,0.04)(1.318,0.91)(1.319,1e-3)(1.320,0.92)(1.321,0.01)(1.322,0.9)(1.323,3e-4)(1.324,0.92)(1.325,2e-3)(1.326,0.91)(1.327,1e-5)(1.328,0.92)(1.329,5e-4)(1.330,0.9)(1.331,1e-5)(1.332,0.92)(1.333,1e-4)(1.334,0.9)(1.335,1e-5)(1.336,0.91)(1.337,1e-3)(1.338,0.88)(1.339,1e-5)(1.340,0.8)(1.341,1e-2)(1.342,0.6)(1.343,1e-5)(1.344,0.45)(1.345,1e-3)(1.346,0.38)(1.347,1e-5)(1.348,0.3)(1.349,3e-2)(1.350,0.27)(1.351,1e-5)(1.352,0.22)(1.353,1e-3)(1.354,0.25)(1.355,1e-5)(1.356,0.2)(1.357,1e-2)(1.358,0.23)(1.359,1e-5)(1.360,0.18)(1.361,3e-3)(1.362,0.21)(1.363,1e-5)(1.364,0.17)(1.365,2e-2)(1.366,0.2)(1.367,1e-5)(1.368,0.16)(1.369,1e-3)(1.370,0.19)(1.371,1e-5)(1.372,0.17)(1.373,1e-2)(1.374,0.21)(1.375,1e-5)(1.376,0.19)(1.377,3e-3)(1.378,0.23)(1.379,1e-5)(1.380,0.22)(1.381,3e-2)(1.382,0.26)(1.383,1e-5)(1.384,0.25)(1.385,1e-3)(1.386,0.3)(1.387,1e-5)(1.388,0.32)(1.389,1e-2)(1.390,0.37)(1.391,1e-5)(1.392,0.4)(1.393,3e-3)(1.394,0.45)(1.395,1e-5)(1.396,0.47)(1.397,2e-2)(1.398,0.52)(1.399,1e-5)(1.400,0.5)(1.401,1e-3)(1.402,0.56)(1.403,1e-5)(1.404,0.55)(1.405,1e-2)(1.406,0.6)(1.407,1e-5)(1.408,0.58)(1.409,3e-3)(1.410,0.63)(1.411,1e-5)(1.412,0.65)(1.413,3e-2)(1.414,0.68)(1.415,1e-5)(1.416,0.66)(1.417,1e-3)(1.418,0.72)(1.419,1e-5)(1.420,0.7)(1.421,1e-2)(1.422,0.75)(1.423,1e-5)(1.424,0.77)(1.425,3e-3)(1.426,0.8)(1.427,1e-5)(1.428,0.78)(1.429,2e-2)(1.430,0.82)(1.431,1e-5)(1.432,0.84)(1.433,1e-3)(1.434,0.85)(1.435,1e-5)(1.436,0.86)(1.437,1e-2)(1.438,0.87)(1.439,1e-5)(1.440,0.88)(1.441,3e-3)(1.442,0.89)(1.443,1e-5)(1.444,0.88)(1.445,1e-3)(1.446,0.9)(1.447,1e-5)(1.448,0.9)(1.449,1e-2)(1.450,0.91)(1.451,1e-5)(1.452,0.9)(1.453,1e-3)(1.454,0.91)(1.455,1e-5)(1.456,0.91)(1.457,1e-4)(1.458,0.92)(1.459,1e-5)(1.460,0.91)(1.461,3e-4)(1.462,0.92)(1.463,1e-5)(1.464,0.92)(1.465,1e-3)(1.466,0.92)(1.467,1e-5)(1.468,0.92)(1.469,3e-3)(1.470,0.92)(1.471,1e-4)(1.472,0.92)(1.473,0.01)(1.474,0.92)(1.475,1e-3)(1.476,0.92)(1.477,0.03)(1.478,0.92)(1.479,5e-3)(1.480,0.92)(1.481,0.05)(1.482,0.92)(1.483,0.02)(1.484,0.92)(1.485,0.1)(1.486,0.92)(1.487,0.05)(1.488,0.92)(1.489,0.2)(1.490,0.92)(1.491,0.1)(1.492,0.92)(1.493,0.3)(1.494,0.92)(1.495,0.2)(1.496,0.92)(1.497,0.5)(1.498,0.92)(1.499,0.4)(1.500,0.92)(1.501,0.6)(1.502,0.92)(1.503,0.7)(1.505,0.93)
(1.5075,0.6)(1.510,0.93)(1.5125,0.75)(1.515,0.93)(1.5175,0.85)(1.520,0.93)(1.5225,0.89)(1.525,0.93)(1.5275,0.85)(1.530,0.93)(1.5325,0.9)(1.535,0.93)(1.5375,0.88)(1.540,0.93)(1.5425,0.9)(1.545,0.93)(1.5475,0.87)(1.550,0.93)(1.5525,0.9)(1.555,0.93)(1.5575,0.88)(1.560,0.93)(1.5625,0.9)(1.565,0.93)(1.5675,0.88)(1.570,0.93)(1.5725,0.9)(1.575,0.92)(1.5775,0.78)(1.580,0.93)(1.5825,0.89)(1.585,0.93)(1.5875,0.9)(1.590,0.93)(1.5925,0.87)(1.595,0.93)(1.5975,0.9)(1.600,0.93)(1.6025,0.88)(1.605,0.93)(1.6075,0.9)(1.610,0.92)(1.6125,0.78)(1.615,0.93)(1.6175,0.89)(1.620,0.93)(1.6225,0.9)(1.625,0.93)(1.6275,0.88)(1.630,0.93)(1.6325,0.9)(1.635,0.93)(1.6375,0.88)(1.640,0.93)(1.6425,0.9)(1.645,0.92)(1.6475,0.8)(1.650,0.93)(1.6525,0.89)(1.655,0.93)(1.6575,0.9)(1.660,0.93)(1.6625,0.88)(1.665,0.93)(1.6675,0.9)(1.670,0.93)(1.6725,0.88)(1.675,0.93)(1.6775,0.9)(1.680,0.93)(1.6825,0.86)(1.685,0.93)(1.6875,0.9)(1.690,0.93)(1.6925,0.87)(1.695,0.93)(1.6975,0.89)(1.700,0.93)(1.7025,0.85)(1.705,0.93)(1.7075,0.88)(1.710,0.93)(1.7125,0.8)(1.715,0.93)(1.7175,0.85)(1.720,0.93)(1.7225,0.65)(1.725,0.93)(1.7275,0.75)(1.730,0.93)(1.7325,0.4)(1.735,0.93)(1.7375,0.5)(1.740,0.92)(1.7425,0.15)(1.745,0.92)(1.7475,0.08)(1.750,0.92)
(1.7505,1e-3)(1.753,0.91)(1.7545,1e-5)(1.756,0.92)(1.7575,0.01)(1.759,0.9)(1.7605,1e-5)(1.762,0.91)(1.7635,1e-4)(1.765,0.88)(1.7665,1e-5)(1.768,0.9)(1.7695,3e-3)(1.771,0.86)(1.7725,1e-5)(1.774,0.89)(1.7755,1e-5)(1.777,0.85)(1.7785,1e-4)(1.780,0.86)(1.7815,1e-5)(1.783,0.8)(1.7845,1e-3)(1.786,0.84)(1.7875,1e-5)(1.789,0.75)(1.7905,1e-5)(1.792,0.8)(1.7935,1e-2)(1.795,0.7)(1.7965,1e-5)(1.798,0.65)(1.7995,1e-5)(1.801,0.55)(1.8025,1e-3)(1.804,0.5)(1.8055,1e-5)(1.807,0.35)(1.8085,1e-5)(1.810,0.25)(1.8115,1e-5)(1.813,0.18)(1.8145,1e-5)(1.816,0.13)(1.8175,1e-5)(1.820,0.11)(1.8225,1e-5)(1.825,0.09)(1.8275,1e-5)(1.830,0.1)(1.8325,1e-5)(1.835,0.08)(1.8375,1e-5)(1.840,0.1)(1.8425,1e-5)(1.845,0.09)(1.8475,1e-5)(1.850,0.1)(1.8525,1e-5)(1.855,0.08)(1.8575,1e-5)(1.860,0.1)(1.8625,1e-5)(1.865,0.11)(1.8675,1e-5)(1.870,0.1)(1.8725,1e-5)(1.875,0.12)(1.8775,1e-5)(1.880,0.13)(1.8825,1e-5)(1.885,0.12)(1.8875,1e-5)(1.890,0.15)(1.8925,1e-5)(1.895,0.14)(1.8975,1e-5)(1.900,0.17)(1.9015,1e-5)(1.903,0.2)(1.9045,1e-5)(1.906,0.19)(1.9075,1e-5)(1.909,0.22)(1.9105,1e-5)(1.912,0.21)(1.9135,1e-5)(1.915,0.25)(1.9165,1e-5)(1.918,0.24)(1.9195,1e-5)(1.921,0.28)(1.9225,1e-5)(1.924,0.3)(1.9255,1e-5)(1.927,0.35)(1.9285,1e-5)(1.930,0.4)(1.9315,1e-5)(1.933,0.45)(1.9345,1e-5)(1.936,0.5)(1.9375,1e-5)(1.939,0.6)(1.9405,1e-5)(1.942,0.65)(1.9435,1e-5)(1.945,0.72)(1.9465,1e-4)(1.948,0.78)(1.9495,1e-5)(1.951,0.82)(1.9525,1e-3)(1.954,0.86)(1.9555,1e-5)(1.957,0.88)(1.9585,3e-3)(1.960,0.9)(1.9615,1e-4)(1.963,0.91)(1.9645,0.01)(1.966,0.92)(1.9675,1e-3)(1.969,0.92)(1.9705,0.02)(1.972,0.93)(1.9735,5e-3)(1.975,0.93)(1.9765,0.05)(1.978,0.93)(1.9795,0.02)(1.981,0.93)(1.9825,0.1)(1.984,0.93)(1.9855,0.05)(1.987,0.93)(1.9885,0.2)(1.990,0.93)(1.9915,0.1)(1.993,0.93)(1.9945,0.3)(1.996,0.93)(1.9975,0.2)(1.999,0.93)
};
\end{axis}
\end{tikzpicture}
\end{document}
